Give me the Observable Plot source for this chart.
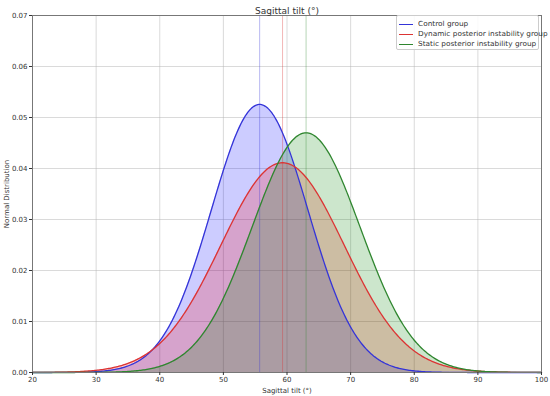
<!DOCTYPE html>
<html><head><meta charset="utf-8">
<script src="https://cdn.jsdelivr.net/npm/d3@7"></script>
<script src="https://cdn.jsdelivr.net/npm/@observablehq/plot@0.6"></script>
<style>
body{margin:0;background:#fff;font-family:"DejaVu Sans",sans-serif;}
#wrap{position:relative;width:550px;height:396px;}
#legend{position:absolute;left:396px;top:15px;width:141px;height:33px;border:1px solid #ccc;border-radius:2px;background:rgba(255,255,255,0.85);font-size:7px;color:#333;}
.row{position:absolute;left:0;height:10px;line-height:10px;white-space:nowrap;}
.sw{position:absolute;left:2px;top:5px;width:14px;height:0;border-top:1.3px solid;}
.lab{position:absolute;left:21px;top:0;display:inline-block;transform:scaleX(1.05);transform-origin:left center;}
</style></head>
<body><div id="wrap"><div id="legend"></div></div>
<script>
const groups = ["Control group", "Dynamic posterior instability group", "Static posterior instability group"];
const means = [55.7, 59.3, 63.0];
const sds = [7.59, 9.70, 8.49];
const colors = ["#3434d8", "#dc3434", "#2f862f"];
const fills = ["#0000ff", "#ff0000", "#008000"];
const xTicks = [20, 30, 40, 50, 60, 70, 80, 90, 100];
const yTicks = [0, 0.01, 0.02, 0.03, 0.04, 0.05, 0.06, 0.07];

const pts = [];
groups.forEach((g, i) => {
  for (let k = 0; k <= 400; k++) {
    const x = 20 + k * 0.2;
    const z = (x - means[i]) / sds[i];
    pts.push({group: g, x, y: Math.exp(-0.5 * z * z) / (sds[i] * Math.sqrt(2 * Math.PI))});
  }
});
const meanRows = groups.map((g, i) => ({group: g, mean: means[i]}));
const cScale = {domain: groups, range: colors};

const chart = Plot.plot({
  width: 550, height: 396,
  marginTop: 15, marginBottom: 24, marginLeft: 32, marginRight: 9,
  style: {fontFamily: "DejaVu Sans, sans-serif", fontSize: "7px", color: "#333", background: "#fff"},
  x: {domain: [20, 100]},
  y: {domain: [0, 0.07]},
  color: cScale,
  marks: [
    Plot.gridX(xTicks, {stroke: "#b0b0b0", strokeOpacity: 0.6, strokeWidth: 0.8}),
    Plot.gridY(yTicks, {stroke: "#b0b0b0", strokeOpacity: 0.6, strokeWidth: 0.8}),
    ...groups.map((g, i) => Plot.areaY(pts.filter(d => d.group === g), {x: "x", y: "y", fill: fills[i], fillOpacity: 0.2})),
    Plot.ruleX(meanRows, {x: "mean", stroke: "group", strokeOpacity: 0.35, strokeWidth: 1}),
    Plot.line(pts, {x: "x", y: "y", z: "group", stroke: "group", strokeWidth: 1.3}),
    Plot.frame({stroke: "#777", strokeWidth: 1}),
    Plot.axisX(xTicks, {tickSize: 3, label: "Sagittal tilt (°)", labelAnchor: "center", labelArrow: "none", labelOffset: 20, tickPadding: 2}),
    Plot.axisY(yTicks, {tickSize: 3, tickFormat: d3.format(".2f"), label: "Normal Distribution", labelAnchor: "center", labelArrow: "none", labelOffset: 28, tickPadding: 2}),
    Plot.text(["Sagittal tilt (°)"], {frameAnchor: "top", dy: -8, fontSize: 9, fill: "#333"})
  ]
});
document.getElementById("wrap").prepend(chart);

const leg = document.getElementById("legend");
groups.forEach((g, i) => {
  const r = document.createElement("div");
  r.className = "row";
  r.style.top = (3 + i * 10) + "px";
  r.innerHTML = `<span class="sw" style="border-color:${colors[i]}"></span><span class="lab">${g}</span>`;
  leg.appendChild(r);
});
</script></body></html>
